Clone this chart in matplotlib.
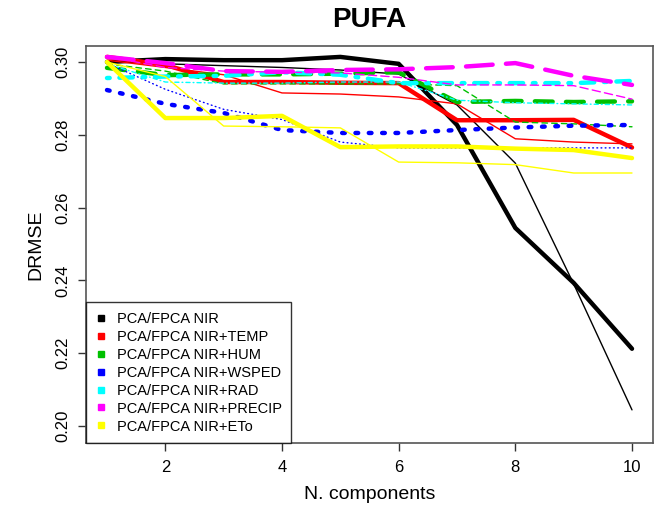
import matplotlib
matplotlib.use("Agg")
import matplotlib.pyplot as plt
from matplotlib.lines import Line2D

plt.rcParams['font.family'] = ['Liberation Sans', 'DejaVu Sans']

components = [1, 2, 3, 4, 5, 6, 7, 8, 9, 10]

labels = ["PCA/FPCA NIR", "PCA/FPCA NIR+TEMP", "PCA/FPCA NIR+HUM",
          "PCA/FPCA NIR+WSPED", "PCA/FPCA NIR+RAD", "PCA/FPCA NIR+PRECIP",
          "PCA/FPCA NIR+ETo"]
colors = ["#000000", "#FF0000", "#00C000", "#0000FF", "#00FFFF", "#FF00FF", "#FFFF00"]

# thick lines (FPCA) and thin lines (PCA)
nir_thick = [0.3000, 0.3008, 0.3005, 0.3005, 0.3014, 0.2995, 0.2827, 0.2544, 0.2393, 0.2212]
nir_thin = [0.3003, 0.2995, 0.2990, 0.2985, 0.2978, 0.2967, 0.2882, 0.2722, 0.2390, 0.2044]
temp_thick = [0.3014, 0.2992, 0.2945, 0.2945, 0.2943, 0.2942, 0.2840, 0.2840, 0.2841, 0.2765]
temp_thin = [0.3005, 0.2985, 0.2965, 0.2915, 0.2912, 0.2904, 0.2885, 0.2789, 0.2780, 0.2775]
hum_thick = [0.2984, 0.2964, 0.2966, 0.2966, 0.2968, 0.2972, 0.2890, 0.2893, 0.2890, 0.2892]
hum_thin = [0.2995, 0.2975, 0.2940, 0.2940, 0.2940, 0.2940, 0.2935, 0.2835, 0.2830, 0.2822]
wsped_thick = [0.2923, 0.2885, 0.2860, 0.2813, 0.2805, 0.2805, 0.2813, 0.2820, 0.2825, 0.2827]
wsped_thin = [0.2997, 0.2925, 0.2870, 0.2842, 0.2780, 0.2764, 0.2764, 0.2764, 0.2764, 0.2764]
rad_thick = [0.2956, 0.2960, 0.2962, 0.2972, 0.2965, 0.2942, 0.2942, 0.2942, 0.2942, 0.2948]
rad_thin = [0.2995, 0.2945, 0.2942, 0.2942, 0.2945, 0.2945, 0.2895, 0.2888, 0.2885, 0.2882]
precip_thick = [0.3014, 0.2997, 0.2975, 0.2973, 0.2978, 0.2980, 0.2986, 0.2997, 0.2962, 0.2937]
precip_thin = [0.3015, 0.2985, 0.2975, 0.2972, 0.2970, 0.2958, 0.2937, 0.2937, 0.2935, 0.2898]
eto_thick = [0.3000, 0.2846, 0.2846, 0.2852, 0.2766, 0.2768, 0.2768, 0.2762, 0.2758, 0.2736]
eto_thin = [0.3000, 0.2960, 0.2824, 0.2822, 0.2819, 0.2725, 0.2723, 0.2718, 0.2695, 0.2695]

thick_series = [nir_thick, temp_thick, hum_thick, wsped_thick, rad_thick, precip_thick, eto_thick]
thin_series = [nir_thin, temp_thin, hum_thin, wsped_thin, rad_thin, precip_thin, eto_thin]
dash_styles = ['-', '-', (0, (4, 3)), (0, (0.6, 2.4)), (0, (0.6, 2.2, 3, 2.2)), (0, (6, 3)), '-']

fig = plt.figure(figsize=(6.56, 5.09), dpi=100)
ax = fig.add_axes([86/656, 1 - 443/509, (653-86)/656, (443-46)/509])

for thick, thin, col, ls in zip(thick_series, thin_series, colors, dash_styles):
    ax.plot(components, thick, color=col, lw=3.2, linestyle=ls,
            solid_capstyle='round', dash_capstyle='round', solid_joinstyle='round')
    ax.plot(components, thin, color=col, lw=1.0, linestyle=ls,
            solid_capstyle='round', dash_capstyle='round')

ax.set_xlim(0.64, 10.36)
ax.set_ylim(0.1953, 0.3044)
ax.set_xticks([2, 4, 6, 8, 10])
ax.set_yticks([0.20, 0.22, 0.24, 0.26, 0.28, 0.30])
ax.set_yticklabels(["0.20", "0.22", "0.24", "0.26", "0.28", "0.30"], rotation=90, va='center')
ax.tick_params(axis='both', direction='out', length=6, width=1, labelsize=12, colors='#333333',
               labelcolor='black')
ax.tick_params(axis='x', pad=6)
ax.tick_params(axis='y', pad=5)
for sp in ax.spines.values():
    sp.set_color('#555555')
    sp.set_linewidth(1.2)

ax.set_xlabel("N. components", fontsize=14, labelpad=8)
ax.set_ylabel("DRMSE", fontsize=14, labelpad=8)
ax.set_title("PUFA", fontsize=20, fontweight='bold', pad=14)

handles = [Line2D([], [], linestyle='none', marker='s', markersize=5, color=c) for c in colors]
leg = ax.legend(handles, labels, loc='lower left', fontsize=10.5, frameon=True, fancybox=False,
                borderaxespad=0, handlelength=0.8, handletextpad=0.65, labelspacing=0.27,
                borderpad=0.65, edgecolor='black')
leg.get_frame().set_linewidth(1.0)

fig.savefig("out.png", dpi=100)
